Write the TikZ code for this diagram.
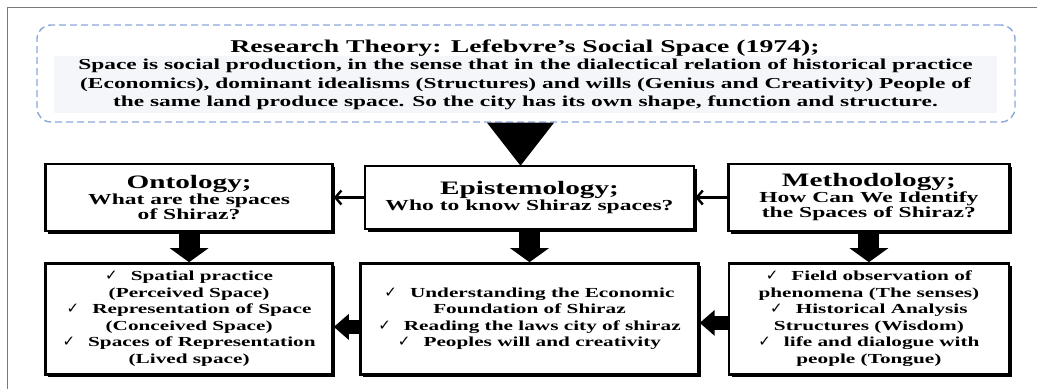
\documentclass[tikz,border=0pt]{standalone}
\usepackage{fontspec}
\setmainfont{Liberation Serif}[FakeStretch=1.54]
\newfontfamily\tickfont{DejaVu Sans}
\usetikzlibrary{positioning,arrows.meta,calc,shadows}
\definecolor{dashBlue}{HTML}{8AA8DA}
\definecolor{bodyGray}{HTML}{F4F6F9}
\definecolor{frameGray}{HTML}{7A7A7A}
\newcommand{\ck}{{\tickfont\mdseries\fontsize{15}{12}\selectfont ✓}\hspace{13pt}}

\begin{document}
\begin{tikzpicture}[
    x=1pt, y=-1pt,
    font=\bfseries,
    theorybox/.style={draw=dashBlue, dash pattern=on 7pt off 4pt, line width=1.4pt,
      rounded corners=14pt, minimum width=978pt, minimum height=97pt},
    headbox/.style={draw, line width=2.4pt, fill=white, align=center, inner sep=2pt,
      minimum height=67pt,
      drop shadow={shadow xshift=2.6pt, shadow yshift=-2.6pt, opacity=1, fill=black}},
    listbox/.style={headbox, minimum height=111pt,
      font=\bfseries\fontsize{13.8}{16.5}\selectfont},
    thinarr/.style={-{Straight Barb[length=6pt,width=14pt]}, line width=2.4pt},
    downarr/.style={-{Triangle[length=14pt,width=38pt]}, line width=21pt},
    sidearr/.style={-{Triangle[length=15pt,width=25pt]}, line width=14pt},
  ]
\useasboundingbox (0,0) rectangle (1037,389);

% ===== outer frame =====
\draw[frameGray, line width=0.9pt] (7,389) -- (7,7) -- (1037,7);

% ===== Research theory =====
\node[theorybox] (theory) at (526,73.5) {};
\node[anchor=base, font=\bfseries\fontsize{18}{20}\selectfont] (title) at (525,52)
  {Research Theory: Lefebvre's Social Space (1974);};
\node[fill=bodyGray, minimum width=943pt, minimum height=57pt, inner sep=0pt, align=center,
  font=\bfseries\fontsize{15.2}{18.5}\selectfont] (body) at (525.5,84.5)
  {Space is social production, in the sense that in the dialectical relation of historical practice\\
   (Economics), dominant idealisms (Structures) and wills (Genius and Creativity) People of\\
   the same land produce space. So the city has its own shape, function and structure.};

% ===== Row 1 =====
\node[headbox, minimum width=329pt, minimum height=63pt] (epis) at (529.5,197.5)
  {\fontsize{19}{20}\selectfont Epistemology;\\
   \fontsize{15.3}{17}\selectfont Who to know Shiraz spaces?};
\node[headbox, minimum width=287pt, left=30pt of epis] (onto)
  {\fontsize{19}{19}\selectfont Ontology;\\
   \fontsize{15.3}{17}\selectfont What are the spaces\\
   \fontsize{15.3}{17}\selectfont of Shiraz?};
\node[headbox, minimum width=281pt, right=32pt of epis] (meth)
  {\fontsize{19}{19}\selectfont Methodology;\\
   \fontsize{15.3}{17}\selectfont How Can We Identify\\
   \fontsize{15.3}{17}\selectfont the Spaces of Shiraz?};

% triangle from theory to epistemology
\fill ($(theory.south)+(-39,0)$) -- ++(67,0) -- ($(theory.south -| epis.north)+(-9,43)$) -- cycle;

% Arrows
\draw[thinarr] (epis) -- (onto);
\draw[thinarr] (meth) -- (epis);

% ===== Row 2 =====
\node[listbox, minimum width=287pt, below=30pt of onto] (ontoList)
  {\ck Spatial practice\\
   (Perceived Space)\\
   \ck Representation of Space\\
   (Conceived Space)\\
   \ck Spaces of Representation\\
   (Lived space)};
\node[listbox, minimum width=338pt, below=32pt of epis] (episList)
  {\ck Understanding the Economic\\
   Foundation of Shiraz\\
   \ck Reading the laws city of shiraz\\
   \ck Peoples will and creativity};
\node[listbox, minimum width=280pt, below=30pt of meth] (methList)
  {\ck Field observation of\\
   phenomena (The senses)\\
   \ck Historical Analysis\\
   Structures (Wisdom)\\
   \ck life and dialogue with\\
   people (Tongue)};

% Arrows
\draw[downarr] (onto) -- (ontoList);
\draw[downarr] (epis) -- (episList);
\draw[downarr] (meth) -- (methList);
\draw[sidearr] ([yshift=-8pt]episList.west) -- ([yshift=-8pt]ontoList.east);
\draw[sidearr] ([yshift=-4pt]methList.west) -- ([yshift=-4pt]episList.east);

\end{tikzpicture}
\end{document}
